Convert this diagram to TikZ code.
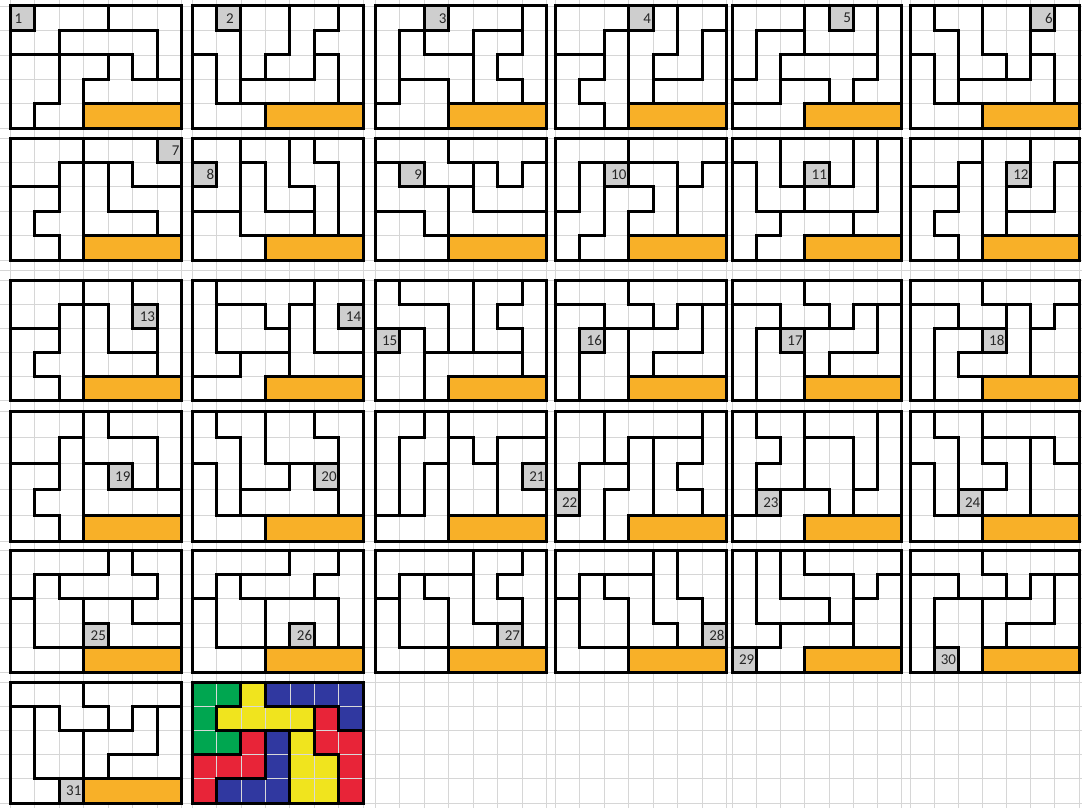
\documentclass[tikz,border=0pt]{standalone}
\usepackage{fontspec}
\setsansfont{Carlito}
\usepackage{tikz}

\definecolor{barorange}{RGB}{248,176,40}
\definecolor{cellgrey}{RGB}{206,206,206}
\definecolor{sheetline}{RGB}{214,214,214}
\definecolor{hue1}{RGB}{0,166,80}
\definecolor{hue2}{RGB}{240,228,30}
\definecolor{hue3}{RGB}{48,56,160}
\definecolor{hue4}{RGB}{232,36,56}

% panel columns and rows of the sheet (px)
\def\colx{{10,192,375,555,732.3,910}}
\def\colw{{171.7,171.3,171.7,171.7,169.3,169}}
\def\rowy{{6,138,280,411,550,682}}
\def\rowh{{122.3,122,120.7,130.7,122,121}}

\newcommand\panelsize[2]{%
  \pgfmathsetmacro\panx{\colx[#1]}%
  \pgfmathsetmacro\pany{\rowy[#2]}%
  \pgfmathsetmacro\cellw{\colw[#1]/7}%
  \pgfmathsetmacro\cellh{\rowh[#2]/5}}

% #2 column, #3 row, #4 number, #5 labels row by row (8 = bar, 9 = number cell)
\newcommand\tiling[5][]{%
  \panelsize{#2}{#3}%
  \def\cells{#5}%
  \begin{scope}[shift={(\panx pt,-\pany pt)}, x=\cellw pt, y=-\cellh pt]
    \foreach \rr in {0,...,4}{\foreach \cc in {0,...,6}{%
      \pgfmathtruncatemacro\cur{\cells[\rr*7+\cc]}%
      \ifnum\cur=8 \fill[barorange] (\cc,\rr) rectangle ++(1,1);\fi
      \ifnum\cur=9 \fill[cellgrey] (\cc,\rr) rectangle ++(1,1);
        \node[numlabel,#1] (n#4) at (\cc+1,\rr+0.5) {#4};\fi
      \ifnum\cur>9 \pgfmathtruncatemacro\hue{\cur/10}%
        \fill[hue\hue] (\cc,\rr) rectangle ++(1,1);\fi
    }}
    \foreach \rr in {0,...,4}{\foreach \cc in {0,...,6}{%
      \pgfmathtruncatemacro\cur{\cells[\rr*7+\cc]}%
      \ifnum\cur>9 \draw[cellrule] (\cc,\rr) rectangle ++(1,1);\fi
    }}
    \foreach \rr in {0,...,4}{\foreach \cc in {0,...,6}{%
      \pgfmathtruncatemacro\cur{\cells[\rr*7+\cc]}%
      \ifnum\cc<6
        \pgfmathtruncatemacro\nxt{\cells[\rr*7+\cc+1]}%
        \ifnum\cur=\nxt\else \draw[piece] (\cc+1,\rr) -- (\cc+1,\rr+1);\fi
      \fi
      \ifnum\rr<4
        \pgfmathtruncatemacro\nxt{\cells[\rr*7+\cc+7]}%
        \ifnum\cur=\nxt\else \draw[piece] (\cc,\rr+1) -- (\cc+1,\rr+1);\fi
      \fi
    }}
    \draw[piece] (0,0) rectangle (7,5);
  \end{scope}}

\begin{document}
\begin{tikzpicture}[x=1pt, y=-1pt,
    sheet/.style={draw=sheetline, line width=0.8pt},
    piece/.style={draw=black, line width=3pt, line cap=rect},
    cellrule/.style={draw=white!85!black, line width=0.7pt},
    numlabel/.style={font=\sffamily\fontsize{15}{15}\selectfont, text=black!85, anchor=east, inner sep=2pt}
]
\useasboundingbox (0,0) rectangle (1082,808);
\fill[white] (0,0) rectangle (1082,808);

% spreadsheet gridlines
\foreach \j in {0,...,5}{\foreach \k in {0,...,7}{%
  \pgfmathsetmacro\gx{\colx[\j]+\k*\colw[\j]/7}
  \draw[sheet] (\gx,0) -- (\gx,808);
}}
\foreach \i in {0,...,5}{\foreach \k in {0,...,5}{%
  \pgfmathsetmacro\gy{\rowy[\i]+\k*\rowh[\i]/5}
  \draw[sheet] (0,\gy) -- (1082,\gy);
}}
\draw[sheet] (0,270) -- (1082,270);

% row 1
\tiling[xshift=-10pt]{0}{0}{1}{{9,1,1,1,2,2,2, 1,1,3,3,3,3,2, 4,4,5,5,6,3,2, 4,4,5,6,6,6,6, 4,5,5,8,8,8,8}}
\tiling[xshift=-5pt]{1}{0}{2}{{1,9,3,3,4,4,5, 1,1,3,3,4,5,5, 2,1,3,4,4,6,5, 2,1,6,6,6,6,5, 2,2,2,8,8,8,8}}
\tiling{2}{0}{3}{{1,1,9,3,3,3,6, 1,4,3,3,5,5,6, 1,4,4,4,5,6,6, 1,2,2,4,5,5,6, 2,2,2,8,8,8,8}}
\tiling{3}{0}{4}{{1,1,1,9,3,4,4, 1,1,2,3,3,4,5, 6,6,2,3,4,4,5, 6,2,2,3,5,5,5, 6,6,2,8,8,8,8}}
\tiling{4}{0}{5}{{1,1,1,4,9,4,6, 1,2,2,4,4,4,6, 1,2,5,5,5,5,6, 2,2,3,3,5,6,6, 3,3,3,8,8,8,8}}
\tiling{5}{0}{6}{{1,2,2,3,3,9,4, 1,1,2,3,3,4,4, 6,1,2,2,3,5,4, 6,1,5,5,5,5,4, 6,6,6,8,8,8,8}}

% row 2
\tiling{0}{1}{7}{{1,1,1,4,4,4,9, 1,1,2,5,6,4,4, 3,3,2,5,6,6,6, 3,2,2,5,5,5,6, 3,3,2,8,8,8,8}}
\tiling{1}{1}{8}{{1,1,3,3,5,6,6, 9,1,4,3,5,5,6, 1,1,4,3,3,5,6, 2,2,4,4,4,5,6, 2,2,2,8,8,8,8}}
\tiling{2}{1}{9}{{1,1,1,4,4,4,4, 2,9,1,1,5,4,5, 2,2,2,6,5,5,5, 3,3,2,6,6,6,6, 3,3,3,8,8,8,8}}
\tiling{3}{1}{10}{{1,1,1,4,4,4,4, 1,2,9,5,5,4,6, 1,2,3,3,5,6,6, 2,2,3,5,5,6,6, 2,3,3,8,8,8,8}}
\tiling{4}{1}{11}{{1,1,4,4,4,5,6, 2,1,4,9,4,5,6, 2,1,1,5,5,5,6, 2,2,3,3,3,6,6, 2,3,3,8,8,8,8}}
\tiling{5}{1}{12}{{1,1,1,4,4,5,5, 1,1,2,4,9,5,6, 3,3,2,4,5,5,6, 3,2,2,4,6,6,6, 3,3,2,8,8,8,8}}

% row 3
\tiling{0}{2}{13}{{1,1,1,4,4,6,6, 1,1,2,5,4,9,6, 3,3,2,5,4,4,6, 3,2,2,5,5,5,6, 3,3,2,8,8,8,8}}
\tiling{1}{2}{14}{{1,3,3,3,3,5,5, 1,4,4,3,6,5,9, 1,4,4,4,6,5,5, 1,1,2,2,6,6,6, 2,2,2,8,8,8,8}}
\tiling{2}{2}{15}{{1,2,2,2,5,5,6, 1,1,1,2,5,6,6, 9,3,1,2,5,5,6, 3,3,4,4,4,4,6, 3,3,4,8,8,8,8}}
\tiling{3}{2}{16}{{2,2,2,4,4,4,4, 1,1,2,2,4,5,6, 1,9,3,5,5,5,6, 1,3,3,5,6,6,6, 1,3,3,8,8,8,8}}
\tiling{4}{2}{17}{{1,1,1,4,4,4,4, 2,2,1,1,4,5,6, 2,3,9,5,5,5,6, 2,3,3,5,6,6,6, 2,3,3,8,8,8,8}}
\tiling{5}{2}{18}{{1,1,1,4,4,4,4, 2,2,1,1,3,4,5, 2,6,6,9,3,5,5, 2,6,3,3,3,5,5, 2,6,6,8,8,8,8}}

% row 4
\tiling{0}{3}{19}{{1,1,1,4,6,6,6, 1,1,2,4,4,4,6, 3,3,2,5,9,4,6, 3,2,2,5,5,5,5, 3,3,2,8,8,8,8}}
\tiling{1}{3}{20}{{1,3,3,4,4,6,6, 1,1,3,4,4,4,6, 2,1,3,3,5,9,6, 2,1,5,5,5,5,6, 2,2,2,8,8,8,8}}
\tiling{2}{3}{21}{{1,1,2,4,4,4,4, 1,2,2,5,4,6,6, 1,2,3,5,5,6,9, 1,2,3,5,5,6,6, 3,3,3,8,8,8,8}}
\tiling{3}{3}{22}{{1,1,4,4,4,4,6, 1,1,4,3,5,5,6, 1,2,2,3,5,6,6, 9,2,3,3,5,5,6, 2,2,3,8,8,8,8}}
\tiling{4}{3}{23}{{1,2,2,4,4,4,6, 1,1,2,5,5,4,6, 1,2,2,5,5,4,6, 1,9,3,3,5,6,6, 3,3,3,8,8,8,8}}
\tiling{5}{3}{24}{{1,3,3,5,5,5,5, 1,1,3,4,4,6,5, 2,1,3,3,4,6,6, 2,1,9,4,4,6,6, 2,2,2,8,8,8,8}}

% row 5
\tiling{0}{4}{25}{{1,1,1,1,5,6,6, 1,2,5,5,5,5,6, 3,2,2,4,4,6,6, 3,2,2,9,4,4,4, 3,3,3,8,8,8,8}}
\tiling{1}{4}{26}{{1,1,1,1,4,4,6, 1,2,4,4,4,6,6, 3,2,2,5,5,5,6, 3,2,2,5,9,5,6, 3,3,3,8,8,8,8}}
\tiling{2}{4}{27}{{1,1,1,1,5,5,6, 1,2,4,4,5,6,6, 3,2,2,4,5,5,6, 3,2,2,4,4,9,6, 3,3,3,8,8,8,8}}
\tiling{3}{4}{28}{{1,1,1,1,5,6,6, 1,2,4,4,5,6,6, 3,2,2,4,5,5,6, 3,2,2,4,4,5,9, 3,3,3,8,8,8,8}}
\tiling{4}{4}{29}{{1,2,3,4,4,4,4, 1,2,3,3,3,4,5, 1,2,2,2,3,5,5, 1,1,6,6,6,5,5, 9,6,6,8,8,8,8}}
\tiling{5}{4}{30}{{1,1,1,2,2,2,2, 3,3,1,1,2,4,5, 3,6,6,4,4,4,5, 3,6,6,4,5,5,5, 3,9,6,8,8,8,8}}

% row 6
\tiling{0}{5}{31}{{1,1,1,2,2,2,2, 3,6,1,1,2,4,5, 3,6,6,4,4,4,5, 3,6,6,4,5,5,5, 3,3,9,8,8,8,8}}
\tiling{1}{5}{}{{11,11,21,31,31,31,31, 11,21,21,21,21,41,31, 11,11,42,32,22,41,41, 42,42,42,32,22,22,41, 42,32,32,32,22,22,41}}
\end{tikzpicture}
\end{document}
